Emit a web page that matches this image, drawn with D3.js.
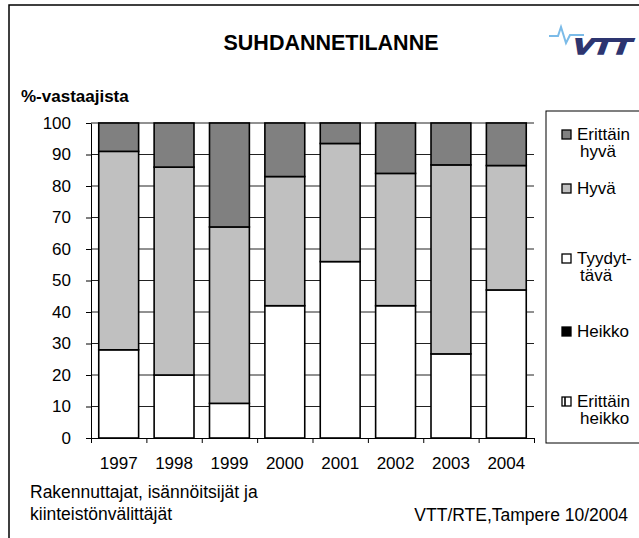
<!DOCTYPE html>
<html>
<head>
<meta charset="utf-8">
<script src="https://cdn.jsdelivr.net/npm/d3@7"></script>
<style>
  body { margin: 0; background: #fff; }
  text { font-family: "Liberation Sans", Arial, sans-serif; }
</style>
</head>
<body>
<div id="chart"></div>
<script>
// data (percent of respondents)
const years = ["1997", "1998", "1999", "2000", "2001", "2002", "2003", "2004"];
const erittainHeikko = [0, 0, 0, 0, 0, 0, 0, 0];
const heikko = [0, 0, 0, 0, 0, 0, 0, 0];
const tyydyttava = [28, 20, 11, 42, 56, 42, 26.7, 47];
const hyva = [63, 66, 56, 41, 37.5, 42, 60, 39.5];
const erittainHyva = [9, 14, 33, 17, 6.5, 16, 13.3, 13.5];
const yTicks = [0, 10, 20, 30, 40, 50, 60, 70, 80, 90, 100];

const keys = ["eh", "h", "t", "hy", "ehy"];
const colors = {eh: "#ffffff", h: "#000000", t: "#ffffff", hy: "#c0c0c0", ehy: "#808080"};

const rows = years.map((yr, i) => ({
  year: yr, eh: erittainHeikko[i], h: heikko[i], t: tyydyttava[i], hy: hyva[i], ehy: erittainHyva[i]
}));

const width = 639, height = 538;
const plotLeft = 91, plotRight = 534, plotTop = 123, plotBottom = 438;

const svg = d3.select("#chart").append("svg")
    .attr("width", width)
    .attr("height", height);

svg.append("rect").attr("width", width).attr("height", height).attr("fill", "#fff");

// slide frame
svg.append("rect")
    .attr("x", 9).attr("y", 5)
    .attr("width", 700).attr("height", 600)
    .attr("fill", "none")
    .attr("stroke", "#000")
    .attr("stroke-width", 1.5);

// title
svg.append("text")
    .attr("x", 331).attr("y", 50)
    .attr("text-anchor", "middle")
    .style("font-size", "21.5px")
    .style("font-weight", "bold")
    .text("SUHDANNETILANNE");

// logo
svg.append("polyline")
    .attr("points", "549,36 558,36 561,27 566,43 570,35 584,35")
    .attr("fill", "none")
    .attr("stroke", "#7bbbe8")
    .attr("stroke-width", 2);
svg.append("text")
    .attr("x", 571).attr("y", 54)
    .attr("textLength", 58)
    .attr("lengthAdjust", "spacingAndGlyphs")
    .attr("transform", "skewX(-20) translate(19.5,0)")
    .style("font-size", "22px")
    .style("font-weight", "bold")
    .attr("fill", "#2d3570")
    .attr("stroke", "#2d3570")
    .attr("stroke-width", 1.6)
    .text("VTT");

svg.append("text")
    .attr("x", 21).attr("y", 102)
    .style("font-size", "17px")
    .style("font-weight", "bold")
    .text("%-vastaajista");

const x = d3.scaleBand()
    .domain(years)
    .range([plotLeft, plotRight])
    .paddingInner(0.28)
    .paddingOuter(0.14);

const y = d3.scaleLinear()
    .domain([0, 100])
    .range([plotBottom, plotTop]);

// gridlines
svg.append("g")
  .selectAll("line")
  .data(yTicks.slice(1))
  .join("line")
    .attr("x1", plotLeft).attr("x2", plotRight)
    .attr("y1", d => y(d)).attr("y2", d => y(d))
    .attr("stroke", "#222")
    .attr("stroke-width", 1);

// stacked bars
const stack = d3.stack().keys(keys)(rows);

svg.append("g")
  .selectAll("g")
  .data(stack)
  .join("g")
    .attr("fill", d => colors[d.key])
  .selectAll("rect")
  .data(d => d.filter(s => s[1] - s[0] > 0))
  .join("rect")
    .attr("x", d => x(d.data.year))
    .attr("y", d => y(d[1]))
    .attr("width", x.bandwidth())
    .attr("height", d => y(d[0]) - y(d[1]))
    .attr("stroke", "#000")
    .attr("stroke-width", 1.6);

// y axis
const yAxis = svg.append("g")
    .attr("transform", `translate(${plotLeft},0)`)
    .call(d3.axisLeft(y).tickValues(yTicks).tickSize(5).tickPadding(15).tickSizeOuter(0));
yAxis.selectAll("text").style("font-size", "17px").attr("fill", "#000");

// x axis with ticks between categories
const xb = d3.scaleLinear().domain([0, years.length]).range([plotLeft, plotRight]);
svg.append("g")
    .attr("transform", `translate(0,${plotBottom})`)
    .call(d3.axisBottom(xb).tickValues(d3.range(years.length + 1)).tickSize(5).tickFormat("").tickSizeOuter(0));

const xLab = svg.append("g")
    .attr("transform", `translate(0,${plotBottom})`)
    .call(d3.axisBottom(x).tickSize(0).tickPadding(19));
xLab.select(".domain").remove();
xLab.selectAll("text").style("font-size", "17px").attr("fill", "#000");

svg.selectAll(".domain, .tick line").attr("stroke", "#000");

// legend
const legendLabels = [["Erittäin", "hyvä"], ["Hyvä"], ["Tyydyt-", "tävä"], ["Heikko"], ["Erittäin", "heikko"]];
const legendKeys = ["ehy", "hy", "t", "h", "eh"];
const legendY = [140, 194, 264, 337, 407];

svg.append("rect")
    .attr("x", 546).attr("y", 111)
    .attr("width", 120).attr("height", 332)
    .attr("fill", "#fff")
    .attr("stroke", "#000")
    .attr("stroke-width", 1);

const item = svg.append("g")
  .selectAll("g")
  .data(legendKeys)
  .join("g")
    .attr("transform", (d, i) => `translate(562,${legendY[i]})`);

item.append("rect")
    .attr("x", 0).attr("y", -10)
    .attr("width", 9).attr("height", 9)
    .attr("fill", d => colors[d])
    .attr("stroke", "#000")
    .attr("stroke-width", 1.3);

item.filter(d => d === "eh").append("line")
    .attr("x1", 3).attr("x2", 3).attr("y1", -10).attr("y2", -1)
    .attr("stroke", "#000").attr("stroke-width", 1.6);

item.append("text")
    .style("font-size", "17px")
  .selectAll("tspan")
  .data((d, i) => legendLabels[i])
  .join("tspan")
    .attr("x", (t, j) => j === 0 ? 15 : 18)
    .attr("y", (t, j) => j * 16.5)
    .text(t => t);

// footnotes
svg.append("text")
    .attr("x", 30).attr("y", 498)
    .style("font-size", "17.5px")
    .text("Rakennuttajat, isännöitsijät ja");
svg.append("text")
    .attr("x", 30).attr("y", 520)
    .style("font-size", "17.5px")
    .text("kiinteistönvälittäjät");
svg.append("text")
    .attr("x", 628).attr("y", 521)
    .attr("text-anchor", "end")
    .style("font-size", "17.5px")
    .text("VTT/RTE,Tampere 10/2004");
</script>
</body>
</html>
